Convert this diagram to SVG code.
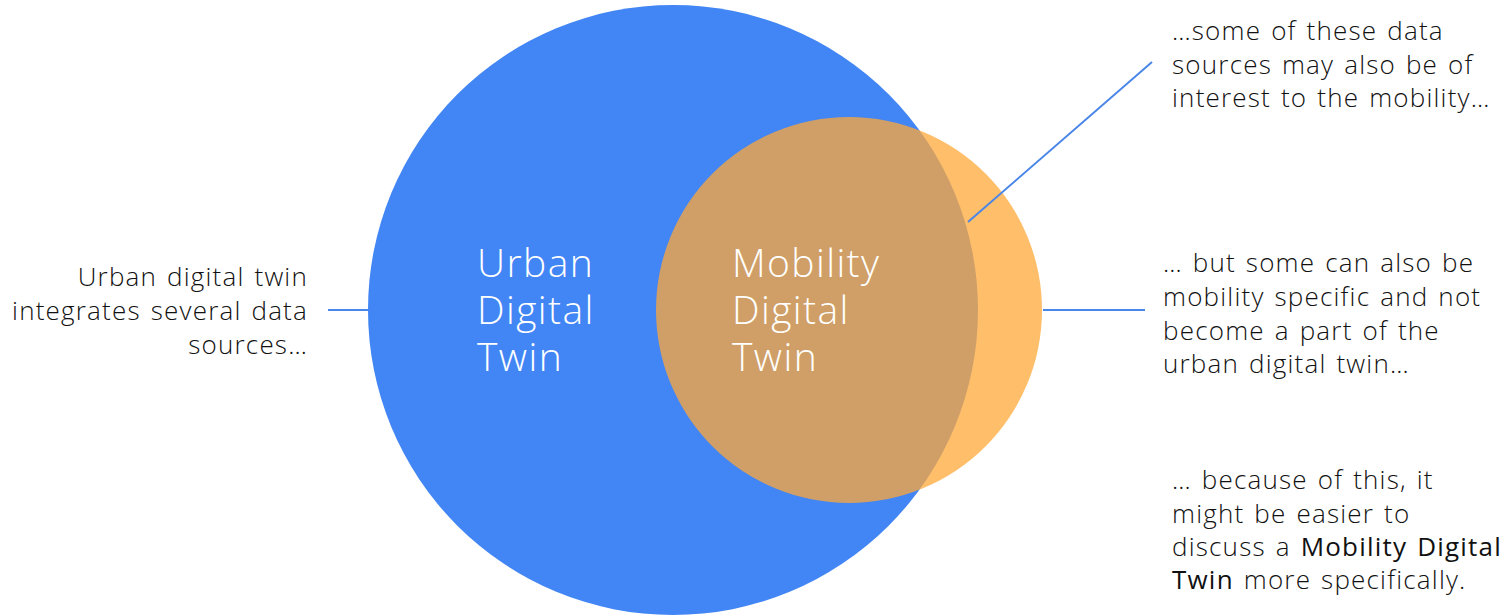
<svg xmlns="http://www.w3.org/2000/svg" width="1510" height="616" viewBox="0 0 1510 616">
<style>
.t{font-family:"Open Sans","Noto Sans","Liberation Sans",sans-serif;font-size:26px;font-weight:350;letter-spacing:1.2px;word-spacing:2px;fill:#111}
.c{font-family:"Open Sans","Noto Sans","Liberation Sans",sans-serif;font-size:39px;font-weight:300;letter-spacing:1.4px;fill:#fff}
.b{font-weight:500}
.ln{stroke:#4a86e8;stroke-width:2;fill:none}
</style>
<rect width="1510" height="616" fill="#fff"/>
<g id="urban">
<circle cx="673" cy="310" r="305" fill="#4285f4"/>
<text class="c"><tspan x="477" y="277">Urban</tspan><tspan x="477" y="324">Digital</tspan><tspan x="477" y="371">Twin</tspan></text>
</g>
<g id="mobility">
<circle cx="849" cy="310" r="193" fill="#ffa838" fill-opacity="0.75"/>
<text class="c"><tspan x="732" y="277">Mobility</tspan><tspan x="732" y="324">Digital</tspan><tspan x="732" y="371">Twin</tspan></text>
</g>
<g id="connectors">
<line class="ln" x1="328" y1="310" x2="368" y2="310"/>
<line class="ln" x1="1043" y1="310" x2="1145" y2="310"/>
<line class="ln" x1="968" y1="222" x2="1152" y2="62"/>
</g>
<g id="note-left">
<text class="t" text-anchor="end"><tspan x="308" y="286">Urban digital twin</tspan><tspan x="308" y="320">integrates several data</tspan><tspan x="308" y="354">sources…</tspan></text>
</g>
<g id="note-top">
<text class="t"><tspan x="1172" y="40">…some of these data</tspan><tspan x="1172" y="74">sources may also be of</tspan><tspan x="1172" y="107">interest to the mobility…</tspan></text>
</g>
<g id="note-mid">
<text class="t"><tspan x="1163" y="272">… but some can also be</tspan><tspan x="1163" y="306">mobility specific and not</tspan><tspan x="1163" y="340">become a part of the</tspan><tspan x="1163" y="373">urban digital twin…</tspan></text>
</g>
<g id="note-bottom">
<text class="t"><tspan x="1172" y="489">… because of this, it</tspan><tspan x="1172" y="523">might be easier to</tspan><tspan x="1172" y="556">discuss a <tspan class="b">Mobility Digital</tspan></tspan><tspan x="1172" y="589"><tspan class="b">Twin</tspan> more specifically.</tspan></text>
</g>
</svg>
